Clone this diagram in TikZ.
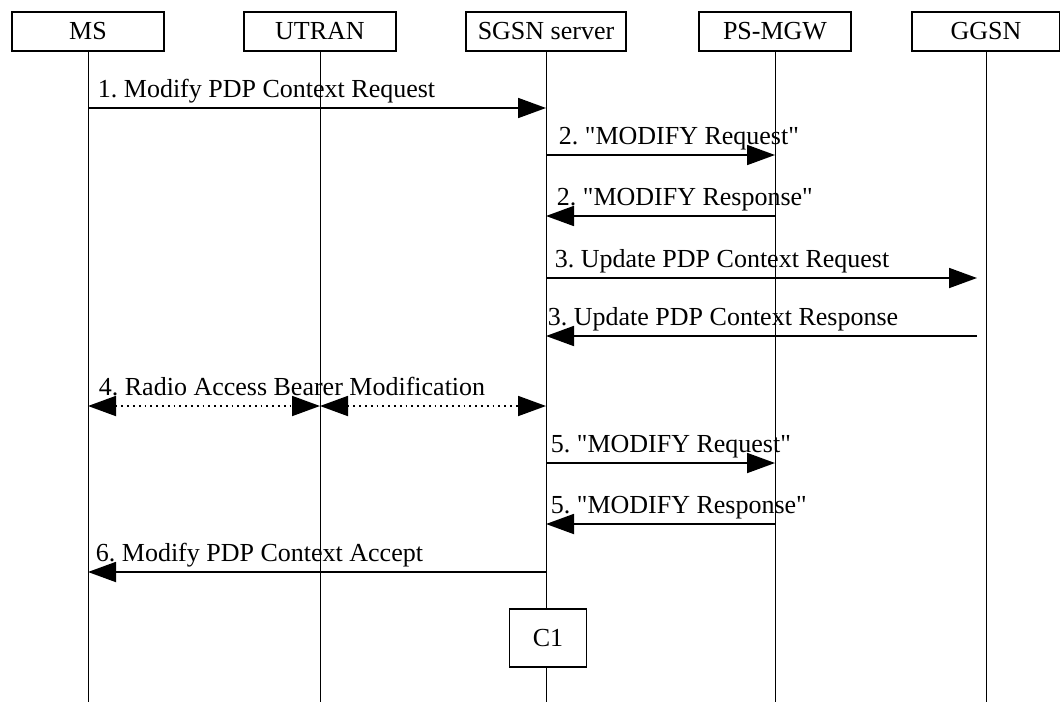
\documentclass[tikz,border=0pt]{standalone}
\usepackage{fontspec}
\setmainfont{Liberation Serif}
\usetikzlibrary{arrows.meta, positioning}
\frenchspacing

\begin{document}
\begin{tikzpicture}[x=0.5pt, y=-0.5pt,
  entity/.style={draw, line width=0.75pt, minimum width=76pt, minimum height=19.5pt, inner sep=0pt, font=\fontsize{13}{15}\selectfont},
  life/.style={line width=0.5pt},
  msg/.style={line width=0.9pt, -{Triangle[length=14pt, width=10pt]}},
  twoway/.style={line width=0.9pt, dotted, {Triangle[length=14pt, width=10pt]}-{Triangle[length=14pt, width=10pt]}},
  lbl/.style={anchor=base west, inner sep=0pt, yshift=5.5pt, font=\fontsize{13}{15}\selectfont}]
  \useasboundingbox (0,0) rectangle (1060,702);

  % entities and lifelines
  \node[entity] (ms) at (88,31.5) {MS};
  \node[entity] (utran) at (320,31.5) {UTRAN};
  \node[entity, minimum width=80pt] (sgsn) at (546,31.5) {SGSN server};
  \node[entity] (psmgw) at (775,31.5) {PS-MGW};
  \node[entity, minimum width=74pt] (ggsn) at (986,31.5) {GGSN};
  \coordinate (bottom) at (0,702);
  \foreach \n in {ms, utran, sgsn, psmgw, ggsn}
    \draw[life] (\n.south) -- (\n |- bottom);

  % message rows
  \foreach \n/\y in {m1/108, m2/155, m3/216, m4/278, m5/336, m6/406, m7/463, m8/524, m9/572}
    \coordinate (\n) at (0,\y);

  \draw[msg] (ms |- m1) -- node[lbl, pos=0, xshift=4.5pt] {1. Modify PDP Context Request} (sgsn |- m1);
  \draw[msg] (sgsn |- m2) -- node[lbl, pos=0, xshift=6pt] {2. \textquotedbl MODIFY Request\textquotedbl} (psmgw |- m2);
  \draw[msg] (psmgw |- m3) -- node[lbl, pos=1, xshift=5pt] {2. \textquotedbl MODIFY Response\textquotedbl} (sgsn |- m3);
  \draw[msg, shorten >=4.5pt] (sgsn |- m4) -- node[lbl, pos=0, xshift=4pt] {3. Update PDP Context Request} (ggsn |- m4);
  \draw[msg, shorten <=4.5pt] (ggsn |- m5) -- node[lbl, pos=1, xshift=0.5pt] {3. Update PDP Context Response} (sgsn |- m5);
  \draw[twoway] (ms |- m6) -- node[lbl, pos=0, xshift=5pt] {4. Radio Access Bearer Modification} (utran |- m6);
  \draw[twoway] (utran |- m6) -- (sgsn |- m6);
  \draw[msg] (sgsn |- m7) -- node[lbl, pos=0, xshift=2pt] {5. \textquotedbl MODIFY Request\textquotedbl} (psmgw |- m7);
  \draw[msg] (psmgw |- m8) -- node[lbl, pos=1, xshift=2pt] {5. \textquotedbl MODIFY Response\textquotedbl} (sgsn |- m8);
  \draw[msg] (sgsn |- m9) -- node[lbl, pos=1, xshift=3.5pt] {6. Modify PDP Context Accept} (ms |- m9);

  \node[entity, fill=white, minimum width=38.5pt, minimum height=29pt] (c1) at (548,638) {C1};
\end{tikzpicture}
\end{document}
